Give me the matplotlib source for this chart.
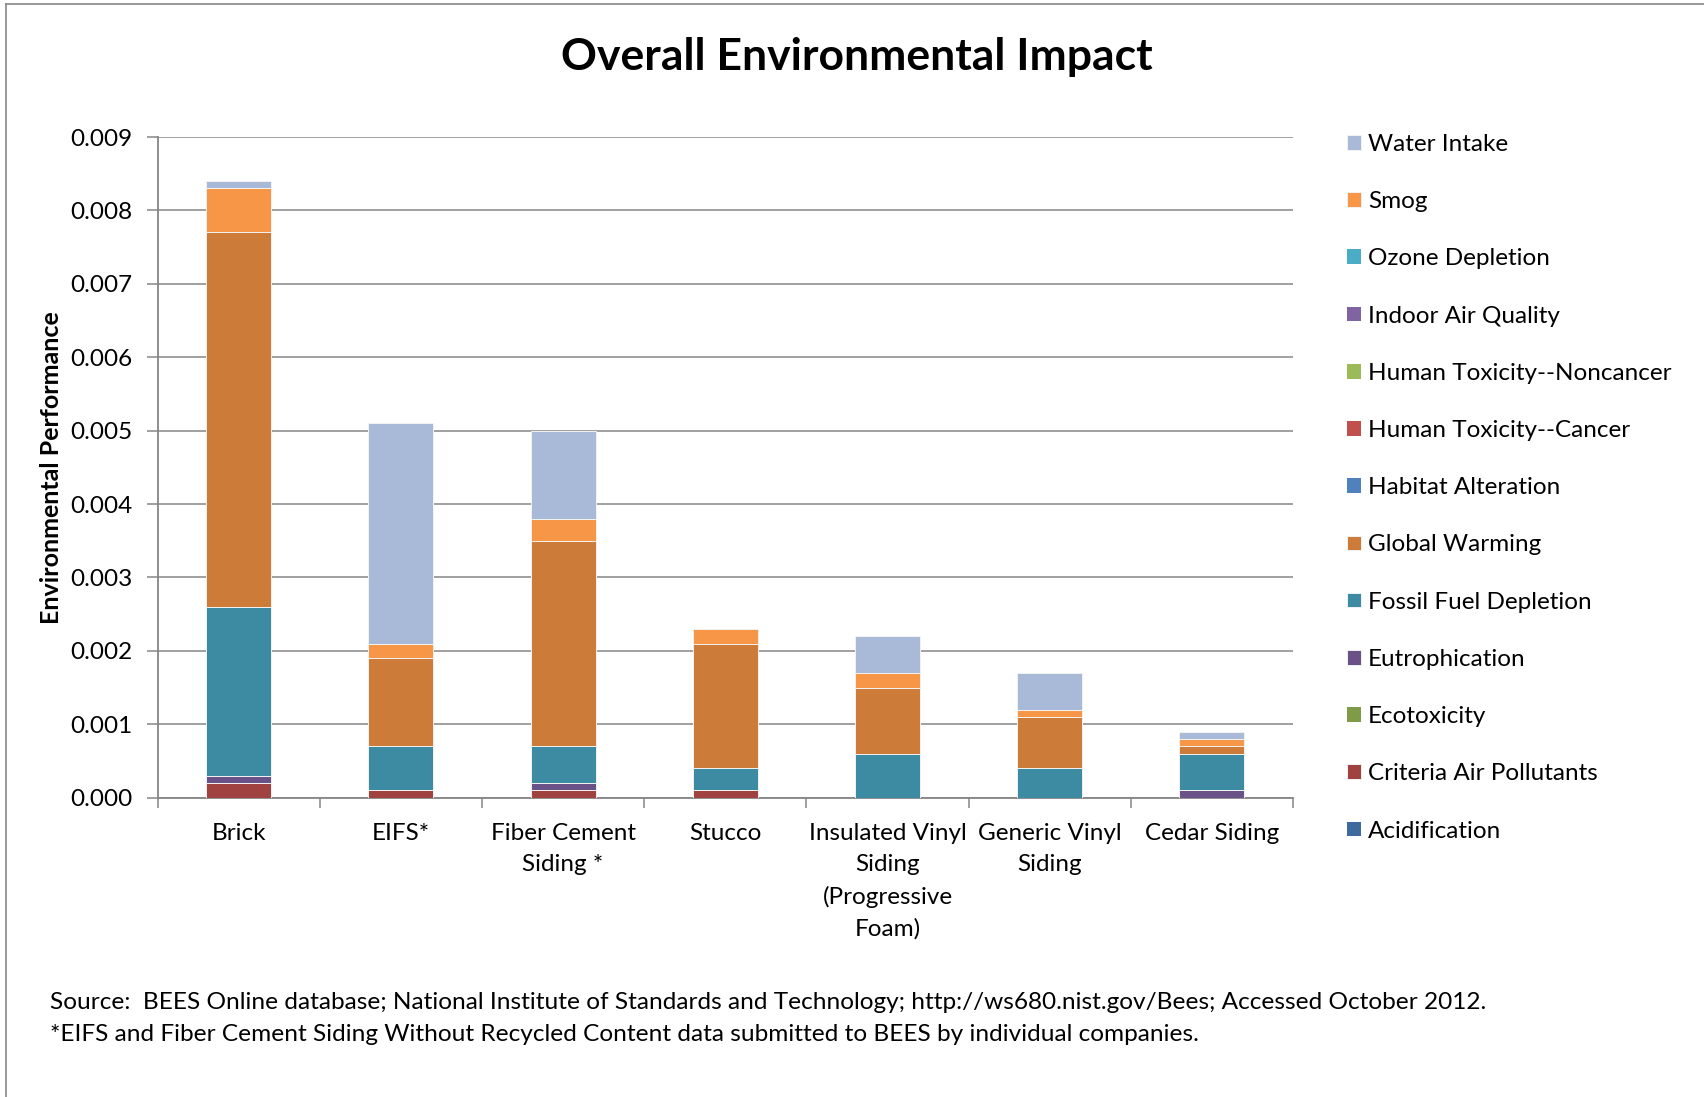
"""Stacked bar chart of overall environmental impact by siding material."""

import matplotlib
matplotlib.use('Agg')
import matplotlib.pyplot as plt
from matplotlib.lines import Line2D
import numpy as np

plt.rcParams['font.family'] = ['Lato', 'DejaVu Sans']

categories = ["Brick", "EIFS*", "Fiber Cement\nSiding *", "Stucco",
              "Insulated Vinyl\nSiding\n(Progressive\nFoam)",
              "Generic Vinyl\nSiding", "Cedar Siding"]

# impact categories, in stacking order (bottom to top)
acidification = [0, 0, 0, 0, 0, 0, 0]
criteria_air = [0.0002, 0.0001, 0.0001, 0.0001, 0, 0, 0]
ecotoxicity = [0, 0, 0, 0, 0, 0, 0]
eutrophication = [0.0001, 0, 0.0001, 0, 0, 0, 0.0001]
fossil_fuel = [0.0023, 0.0006, 0.0005, 0.0003, 0.0006, 0.0004, 0.0005]
global_warming = [0.0051, 0.0012, 0.0028, 0.0017, 0.0009, 0.0007, 0.0001]
habitat = [0, 0, 0, 0, 0, 0, 0]
tox_cancer = [0, 0, 0, 0, 0, 0, 0]
tox_noncancer = [0, 0, 0, 0, 0, 0, 0]
indoor_air = [0, 0, 0, 0, 0, 0, 0]
ozone = [0, 0, 0, 0, 0, 0, 0]
smog = [0.0006, 0.0002, 0.0003, 0.0002, 0.0002, 0.0001, 0.0001]
water_intake = [0.0001, 0.0030, 0.0012, 0, 0.0005, 0.0005, 0.0001]

series = [
    ("Acidification", acidification, "#3F6A9E"),
    ("Criteria Air Pollutants", criteria_air, "#A0423F"),
    ("Ecotoxicity", ecotoxicity, "#7F9B47"),
    ("Eutrophication", eutrophication, "#6A5187"),
    ("Fossil Fuel Depletion", fossil_fuel, "#3C8BA3"),
    ("Global Warming", global_warming, "#CD7B38"),
    ("Habitat Alteration", habitat, "#4F81BD"),
    ("Human Toxicity--Cancer", tox_cancer, "#C0504D"),
    ("Human Toxicity--Noncancer", tox_noncancer, "#9BBB59"),
    ("Indoor Air Quality", indoor_air, "#8064A2"),
    ("Ozone Depletion", ozone, "#4BACC6"),
    ("Smog", smog, "#F79646"),
    ("Water Intake", water_intake, "#A9B9D8"),
]

fig = plt.figure(figsize=(17.04, 10.97), dpi=100)
ax = fig.add_axes([0.0925, 0.2728, 0.6663, 0.6023])

x = np.arange(len(categories))
bottom = np.zeros(len(categories))
handles = []
for name, vals, color in series:
    vals = np.array(vals, dtype=float)
    lw = [0.7 if v > 0 else 0 for v in vals]
    bars = ax.bar(x, vals, width=0.4, bottom=bottom, color=color,
                  edgecolor='#F2F2F2', linewidth=lw, label=name, zorder=3)
    handles.append(bars)
    bottom += vals

ax.set_xlim(-0.5, len(categories) - 0.5)
ax.set_ylim(0, 0.009)
ax.set_yticks(np.arange(0, 0.0091, 0.001))
ax.set_yticklabels([f"{v:.3f}" for v in np.arange(0, 0.0091, 0.001)])
ax.yaxis.grid(True, color='#868686', linewidth=1.1, zorder=0)
ax.set_axisbelow(True)

ax.set_xticks(x)
ax.set_xticklabels(categories, linespacing=1.6)
ax.set_xticks(np.arange(-0.5, len(categories)), minor=True)
ax.tick_params(axis='x', which='major', length=0, pad=18, labelsize=17.5)
ax.tick_params(axis='x', which='minor', length=7, width=1.1, color='#868686')
ax.tick_params(axis='y', length=8, width=1.1, color='#868686',
               labelsize=17.5, pad=10)

for side in ('top', 'right'):
    ax.spines[side].set_visible(False)
for side in ('left', 'bottom'):
    ax.spines[side].set_color('#868686')
    ax.spines[side].set_linewidth(1.3)

ax.set_ylabel("Environmental Performance", fontsize=18, fontweight='bold',
              labelpad=5)
fig.text(0.503, 0.948, "Overall Environmental Impact", ha='center',
         va='center', fontsize=32, fontweight='bold')

# legend lists the top of the stack first
fig.legend(handles=handles[::-1], loc='upper left',
           bbox_to_anchor=(0.7835, 0.889), frameon=False, fontsize=17.5,
           handlelength=0.55, handleheight=0.55, handletextpad=0.3,
           labelspacing=1.49, borderpad=0)

fig.text(0.0293, 0.086,
         "Source:  BEES Online database; National Institute of Standards and "
         "Technology; http://ws680.nist.gov/Bees; Accessed October 2012.",
         fontsize=17.6, va='center')
fig.text(0.0293, 0.057,
         "*EIFS and Fiber Cement Siding Without Recycled Content data "
         "submitted to BEES by individual companies.",
         fontsize=17.6, va='center')

# outer chart border
fig.add_artist(Line2D([0.0035, 1.0], [0.996, 0.996], color='#888888',
                      linewidth=1.2, transform=fig.transFigure))
fig.add_artist(Line2D([0.0035, 0.0035], [0.0, 0.996], color='#888888',
                      linewidth=1.2, transform=fig.transFigure))

fig.savefig("out.png", dpi=100)
